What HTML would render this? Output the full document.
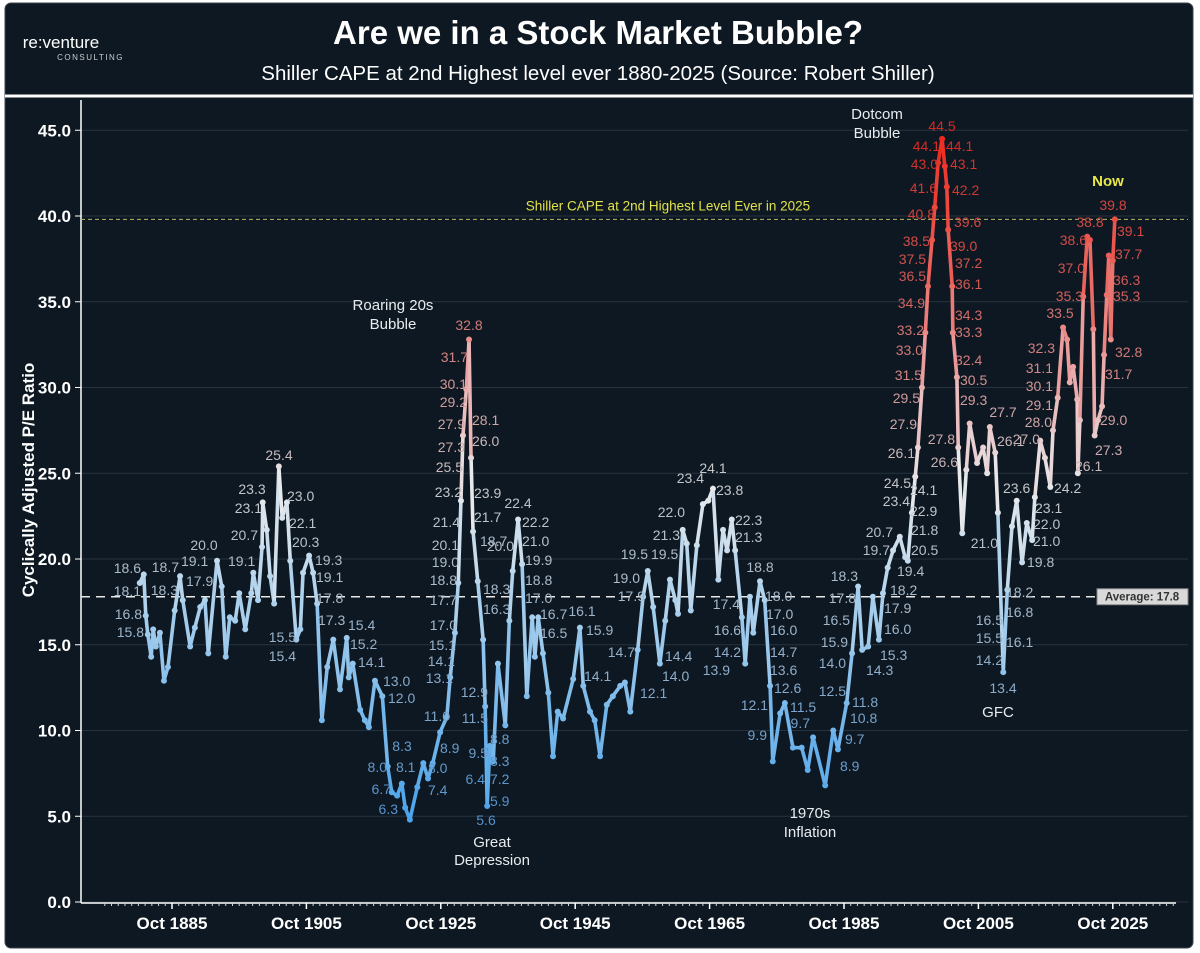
<!DOCTYPE html>
<html><head><meta charset="utf-8">
<style>
html,body{margin:0;padding:0;background:#fff;}
svg{display:block;font-family:"Liberation Sans",Arial,sans-serif;}
</style></head>
<body>
<svg id="chart" width="1200" height="953" viewBox="0 0 1200 953">
  <rect x="5" y="3" width="1188" height="945" rx="6" fill="#0e1822" stroke="#3a4550" stroke-width="1"/>
  <g>
    <text x="61" y="48" text-anchor="middle" fill="#ffffff" font-size="17">re:venture</text>
    <text x="124" y="60" text-anchor="end" fill="#c8ccd0" font-size="8" letter-spacing="1.5">CONSULTING</text>
  </g>
  <text x="598" y="44" text-anchor="middle" fill="#ffffff" font-size="33" font-weight="bold">Are we in a Stock Market Bubble?</text>
  <text x="598" y="80" text-anchor="middle" fill="#ffffff" font-size="20.5">Shiller CAPE at 2nd Highest level ever 1880-2025 (Source: Robert Shiller)</text>
  <line x1="5" y1="96" x2="1193" y2="96" stroke="#ffffff" stroke-width="3"/>
  <text transform="translate(34,480) rotate(-90)" text-anchor="middle" fill="#ffffff" font-size="17" font-weight="bold">Cyclically Adjusted P/E Ratio</text>
  <g id="grid"></g>
  <g id="axes"></g>
  <g id="refs"></g>
  <g id="series"></g>
  <g id="dots"></g>
  <g id="labels"></g>
  <g id="annos"></g>
</svg>
<script>
// ---- data ----
const years = [1881.0,1881.6,1881.9,1882.2,1882.7,1883.0,1883.4,1884.0,1884.6,1885.2,1886.2,1887.0,1887.4,1888.5,1889.2,1890.0,1890.7,1891.2,1892.5,1893.2,1893.8,1894.4,1895.2,1895.8,1896.7,1897.6,1897.9,1898.6,1899.2,1899.3,1899.9,1900.4,1901.0,1901.7,1902.2,1902.9,1903.4,1904.3,1904.9,1905.3,1906.2,1906.8,1907.4,1908.1,1908.9,1909.8,1910.8,1911.8,1912.1,1912.7,1913.8,1914.5,1915.1,1916.0,1917.1,1917.9,1918.5,1919.3,1920.0,1920.5,1921.2,1922.3,1923.2,1923.9,1924.6,1925.7,1926.7,1927.2,1927.9,1928.4,1928.8,1929.1,1929.6,1930.0,1930.3,1930.6,1931.3,1932.1,1932.4,1932.7,1933.1,1933.6,1934.3,1935.4,1936.0,1936.5,1937.3,1937.9,1938.6,1939.4,1939.8,1940.3,1941.0,1941.8,1942.5,1943.2,1944.0,1945.5,1946.5,1947.0,1948.0,1948.7,1949.5,1950.5,1951.4,1952.5,1953.2,1954.0,1955.1,1955.9,1956.6,1957.4,1958.4,1959.2,1959.9,1960.7,1961.1,1961.8,1962.4,1963.0,1963.9,1964.8,1965.6,1966.3,1967.1,1967.8,1968.4,1969.1,1969.6,1970.6,1971.1,1971.8,1972.3,1973.3,1974.0,1974.8,1975.2,1976.3,1977.0,1978.2,1979.5,1980.4,1981.2,1983.0,1984.2,1984.9,1986.2,1987.0,1987.9,1988.5,1989.4,1990.1,1991.0,1991.6,1992.3,1993.1,1994.1,1994.9,1995.3,1995.9,1996.4,1996.8,1997.4,1997.9,1998.3,1998.9,1999.3,1999.8,2000.4,2000.8,2001.1,2001.3,2001.9,2002.0,2002.6,2002.8,2003.4,2004.0,2004.5,2005.6,2006.5,2007.1,2007.5,2008.3,2008.7,2009.5,2010.1,2010.8,2011.5,2012.3,2013.0,2013.8,2014.2,2015.0,2015.7,2016.5,2016.9,2017.6,2018.4,2019.0,2019.4,2019.9,2020.5,2020.6,2020.9,2021.4,2022.0,2022.4,2022.9,2023.1,2023.6,2024.2,2024.5,2024.9,2025.2,2025.5,2025.8,2026.1];
const cape = [18.6,19.1,16.7,15.6,14.3,15.9,14.9,15.7,12.9,13.7,17.0,19.0,17.6,14.9,16.0,17.2,17.6,14.5,19.9,18.4,14.3,16.6,16.4,18.0,15.9,18.0,19.2,17.6,20.7,23.3,21.7,19.0,17.4,25.4,22.4,23.3,19.9,15.3,15.9,19.2,20.2,19.2,17.4,10.6,13.7,15.3,12.4,15.4,13.1,13.9,11.2,10.6,10.2,12.9,12.0,7.9,6.4,6.2,6.9,5.5,4.8,6.7,8.1,7.2,8.1,9.9,10.8,13.1,15.7,18.6,23.4,27.2,29.9,32.8,25.9,21.6,18.7,15.3,11.4,5.6,9.1,8.2,13.9,10.3,16.4,19.3,22.3,19.7,12.0,16.6,14.3,16.6,14.5,12.2,8.5,11.1,10.7,13.0,16.0,12.6,11.1,10.6,8.5,11.5,12.0,12.6,12.8,11.1,14.7,17.8,19.3,17.2,13.9,16.4,18.8,17.6,16.8,21.7,20.9,17.0,20.8,23.2,23.4,24.1,18.8,21.7,20.5,22.3,20.5,16.6,13.9,17.8,15.7,18.7,17.6,12.6,8.2,11.0,11.6,9.0,9.0,7.7,9.6,6.8,10.0,8.9,11.6,14.5,18.4,14.7,14.9,17.8,15.3,18.0,19.5,20.5,21.3,20.1,19.9,22.7,24.8,26.5,30.0,33.2,35.9,38.6,40.5,43.1,44.5,42.9,41.7,39.2,35.9,33.2,30.6,26.5,21.5,25.2,27.9,25.6,26.5,25.0,27.7,26.2,22.7,13.4,18.2,21.9,23.4,19.8,22.1,21.1,23.6,26.9,25.9,24.2,27.5,29.4,33.5,32.8,30.3,31.2,29.3,25.0,28.1,35.3,38.8,38.6,33.4,27.2,28.1,28.9,31.9,35.4,37.7,32.8,37.4,39.8];
const yTicks = [0,5,10,15,20,25,30,35,40,45];
const xTickYears = [1885.8,1905.8,1925.8,1945.8,1965.8,1985.8,2005.8,2025.8];
const xTickLabels = ["Oct 1885","Oct 1905","Oct 1925","Oct 1945","Oct 1965","Oct 1985","Oct 2005","Oct 2025"];
const averageValue = 17.8;
const highLevel = 39.8;
// printed point labels: [text, side, anchorX, centerY] (layout annotations)
const pointLabels = [['18.6','L',141,568],['18.1','L',141,591],['16.8','L',142,614],['15.8','L',144,632],
['18.7','L',179,567],['18.3','L',178,590],['19.1','R',181,561],['17.9','R',186,581],['20.0','T',204,545],['19.1','R',228,561],['20.7','L',258,535],['23.1','L',262,508],['23.3','T',252,489],['25.4','T',279,455],['23.0','R',287,496],['22.1','R',289,523],['20.3','R',292,542],['19.3','R',315,560],['19.1','R',316,577],['17.8','R',316,598],['15.5','L',296,637],['15.4','L',296,656],['17.3','R',318,620],['15.4','R',348,625],['15.2','R',350,644],['14.1','R',358,662],['13.0','R',383,681],['12.0','R',388,698],['8.3','T',402,746],['8.0','L',387,767],['8.1','R',396,767],['6.7','L',391,789],['6.3','L',398,809],
['8.9','R',440,748],['8.0','R',428,768],['7.4','R',428,790],['11.0','L',450,716],['13.1','L',453,678],['14.1','L',455,661],['15.1','L',456,645],['17.0','L',457,625],['17.7','L',457,600],['18.8','L',457,580],['19.0','L',459,562],['20.1','L',459,545],['21.4','L',460,522],['23.2','L',462,492],['25.5','L',463,467],['27.3','L',465,447],['27.9','L',465,424],['29.2','L',467,402],['30.1','L',467,384],['31.7','L',468,357],['32.8','T',469,325],
['28.1','R',472,420],['26.0','R',472,441],['23.9','R',474,493],['21.7','R',474,517],['18.7','R',480,541],['18.3','R',483,589],['16.3','R',483,609],['12.9','L',488,692],['11.5','L',488,718],['9.5','L',488,753],['6.4','L',485,779],['8.8','R',490,739],['8.3','R',490,761],['7.2','R',490,779],['5.9','R',490,801],['5.6','T',486,820],
['22.4','T',518,503],['20.0','L',514,546],['22.2','R',522,522],['21.0','R',522,541],['19.9','R',525,560],['18.8','R',525,580],['17.0','R',525,598],['16.7','R',540,614],['16.5','R',540,633],['16.1','T',582,611],['15.9','R',586,630],['14.1','R',584,676],['14.7','L',635,652],['12.1','R',640,693],['19.0','L',640,578],['17.9','L',645,596],['19.5','L',648,554],['19.5','R',651,554],['22.0','L',685,512],['21.3','L',680,535],['14.4','R',665,656],['14.0','R',662,676],
['23.4','L',704,478],['24.1','T',713,468],['23.8','R',716,490],['22.3','R',735,520],['21.3','R',735,537],['18.8','T',760,567],['17.4','L',740,604],['16.6','L',741,630],['14.2','L',741,652],['13.9','L',730,670],['18.0','R',765,596],['17.0','R',766,614],['16.0','R',770,630],['14.7','R',770,652],['13.6','R',770,670],['12.6','R',774,688],['12.1','L',768,705],['11.5','R',790,707],['9.9','L',767,735],['9.7','L',810,723],['12.5','L',846,691],['14.0','L',846,663],['15.9','L',848,642],['16.5','L',850,620],['17.8','L',856,598],['18.3','L',858,576],['11.8','R',852,702],['10.8','R',850,718],['9.7','R',845,739],['8.9','R',840,766],['14.3','R',866,670],['15.3','R',880,655],['16.0','R',884,629],['17.9','R',884,608],['18.2','R',890,590],['19.4','R',897,571],['19.7','L',890,550],['20.7','L',893,532],['20.5','R',911,550],['21.8','R',911,530],['22.9','R',910,511],['24.1','R',910,490],['23.4','L',910,501],['24.5','L',911,483],['26.1','L',915,453],['27.9','L',917,424],['29.5','L',920,398],['31.5','L',922,375],['33.0','L',923,350],['33.2','L',924,330],['34.9','L',925,303],['36.5','L',926,276],['37.5','L',926,259],['38.5','L',930,241],['40.8','L',935,214],['41.6','L',937,188],['43.0','L',938,164],['44.1','L',940,146],['44.5','T',942,126],['44.1','R',946,146],['43.1','R',950,164],['42.2','R',952,190],['39.6','R',954,222],['39.0','R',950,246],['37.2','R',955,263],['36.1','R',955,284],['34.3','R',955,315],['33.3','R',955,332],['32.4','R',955,360],['30.5','R',960,380],['29.3','R',960,400],['27.8','L',955,439],['26.6','L',958,462],['21.0','L',998,543],['27.7','T',1003,412],['26.1','R',997,441],['23.6','R',1003,488],['18.2','R',1006,592],['16.8','R',1006,612],['16.1','R',1006,642],['16.5','L',1003,620],['15.5','L',1003,638],['14.2','L',1003,660],['13.4','T',1003,688],['19.8','R',1027,562],['21.0','R',1033,541],['22.0','R',1033,524],['23.1','R',1035,508],['24.2','R',1054,488],['27.0','L',1040,439],['28.0','L',1052,422],['29.1','L',1053,405],['30.1','L',1053,386],['31.1','L',1053,368],['32.3','L',1055,348],['33.5','T',1060,313],['35.3','L',1083,296],['37.0','L',1085,268],['38.6','L',1087,240],['38.8','T',1090,222],['26.1','R',1075,466],['27.3','R',1095,450],['29.0','R',1100,420],['31.7','R',1105,374],['32.8','R',1115,352],['35.3','R',1113,296],['36.3','R',1113,280],['37.7','R',1115,254],['39.1','R',1117,231],['39.8','T',1113,205]];

// ---- scales ----
const NS = 'http://www.w3.org/2000/svg';
function X(yr){ return 172 + (yr - 1885.8) * 6.72; }
function Y(v){ return 902 - v * 17.15; }
function mk(tag, attrs, parent){
  const e = document.createElementNS(NS, tag);
  for (const k in attrs) e.setAttribute(k, attrs[k]);
  parent.appendChild(e);
  return e;
}
function hex(c){ return [parseInt(c.slice(1,3),16),parseInt(c.slice(3,5),16),parseInt(c.slice(5,7),16)]; }
function grad(stops, v){
  if (v <= stops[0][0]) return stops[0][1];
  for (let i = 1; i < stops.length; i++){
    if (v <= stops[i][0]){
      const t = (v - stops[i-1][0]) / (stops[i][0] - stops[i-1][0]);
      const a = hex(stops[i-1][1]), b = hex(stops[i][1]);
      return 'rgb(' + a.map((x,j)=>Math.round(x + (b[j]-x)*t)).join(',') + ')';
    }
  }
  return stops[stops.length-1][1];
}
const lineStops = [[5,'#4aa3ea'],[17,'#a9cfec'],[24,'#e8eaec'],[30,'#eab0b0'],[36,'#ea6a64'],[44.5,'#ee2a20']];
const labelStops = [[5,'#4f8fcc'],[17,'#a4b8ca'],[24,'#c6c8ca'],[30,'#d29696'],[36,'#d25a56'],[44.5,'#d42a22']];

const grid = document.getElementById('grid');
const axes = document.getElementById('axes');
yTicks.forEach(t => {
  const g = mk('line', {x1:81, x2:1188, y1:Y(t), y2:Y(t), stroke:'#26323d', 'stroke-width':1}, grid);
  
  
  const tk = mk('line', {x1:75, x2:81, y1:Y(t), y2:Y(t), stroke:'#ffffff', 'stroke-width':1}, axes);
  
  
  const lb = mk('text', {x:71, y:Y(t)+6, 'text-anchor':'end', fill:'#ffffff', 'font-size':17, 'font-weight':'bold'}, axes);
  lb.textContent = t.toFixed(1);
  
  
});
const yax = mk('line', {x1:81, x2:81, y1:100, y2:903, stroke:'#ffffff', 'stroke-width':1.5}, axes);


const xax = mk('line', {x1:81, x2:1176, y1:903, y2:903, stroke:'#ffffff', 'stroke-width':1.5}, axes);


for (let yr = 1875.8; X(yr) < 1176; yr += 1){
  if (X(yr) < 84) continue;
  const m = mk('line', {x1:X(yr), x2:X(yr), y1:903, y2:906, stroke:'#cfd4d8', 'stroke-width':1}, axes);
  
  
}
xTickYears.forEach((yr, i) => {
  const tk = mk('line', {x1:X(yr), x2:X(yr), y1:903, y2:909, stroke:'#ffffff', 'stroke-width':1.5}, axes);
  
  
  const lb = mk('text', {x:X(yr), y:929, 'text-anchor':'middle', fill:'#ffffff', 'font-size':17, 'font-weight':'bold'}, axes);
  lb.textContent = xTickLabels[i];
  
  
});

// reference lines
const refs = document.getElementById('refs');
const avg = mk('line', {x1:81, x2:1096, y1:Y(averageValue), y2:Y(averageValue), stroke:'#e8e8e8', 'stroke-width':1.5, 'stroke-dasharray':'9,6'}, refs);


const avgBox = mk('rect', {x:1097, y:Y(averageValue)-8, width:91, height:16, fill:'#d9d9d9', stroke:'#888', 'stroke-width':1}, refs);


const avgTxt = mk('text', {x:1142, y:Y(averageValue)+4, 'text-anchor':'middle', fill:'#333', 'font-size':11.5, 'font-weight':'bold'}, refs);
avgTxt.textContent = 'Average: ' + averageValue.toFixed(1);


const hi = mk('line', {x1:81, x2:1188, y1:Y(highLevel), y2:Y(highLevel), stroke:'#b8b860', 'stroke-width':1, 'stroke-dasharray':'4,3'}, refs);


const hiTxt = mk('text', {x:668, y:Y(highLevel)-9, 'text-anchor':'middle', fill:'#e2e24a', 'font-size':13.5}, refs);
hiTxt.textContent = 'Shiller CAPE at 2nd Highest Level Ever in 2025';



// series
const ser = document.getElementById('series');
const dots = document.getElementById('dots');
for (let i = 1; i < years.length; i++){
  const v = (cape[i-1] + cape[i]) / 2;
  const s = mk('line', {x1:X(years[i-1]), y1:Y(cape[i-1]), x2:X(years[i]), y2:Y(cape[i]), stroke:grad(lineStops, v), 'stroke-width':3.6, 'stroke-linecap':'round'}, ser);
  
  
}
for (let i = 0; i < years.length; i++){
  const d = mk('circle', {cx:X(years[i]), cy:Y(cape[i]), r:3, fill:grad(lineStops, cape[i])}, dots);
  
  
}

// point labels
const lg = document.getElementById('labels');
pointLabels.forEach(p => {
  const val = parseFloat(p[0]);
  const anchor = p[1] === 'L' ? 'end' : (p[1] === 'R' ? 'start' : 'middle');
  const t = mk('text', {x:p[2], y:p[3]+5, 'text-anchor':anchor, fill:grad(labelStops, val), 'font-size':14}, lg);
  t.textContent = p[0];
  
  
});

// annotations
const an = document.getElementById('annos');
const annos = [['Roaring 20s',393,310,'#e8ecef'],['Bubble',393,329,'#e8ecef'],['Dotcom',877,119,'#e8ecef'],['Bubble',877,138,'#e8ecef'],['Great',492,847,'#e8ecef'],['Depression',492,865,'#e8ecef'],['1970s',810,818,'#e8ecef'],['Inflation',810,837,'#e8ecef'],['GFC',998,717,'#e8ecef']];
annos.forEach(a => {
  const t = mk('text', {x:a[1], y:a[2], 'text-anchor':'middle', fill:a[3], 'font-size':15}, an);
  t.textContent = a[0];
  
  
});
const now = mk('text', {x:1108, y:186, 'text-anchor':'middle', fill:'#e8e84a', 'font-size':15, 'font-weight':'bold'}, an);
now.textContent = 'Now';


</script>
</body></html>
